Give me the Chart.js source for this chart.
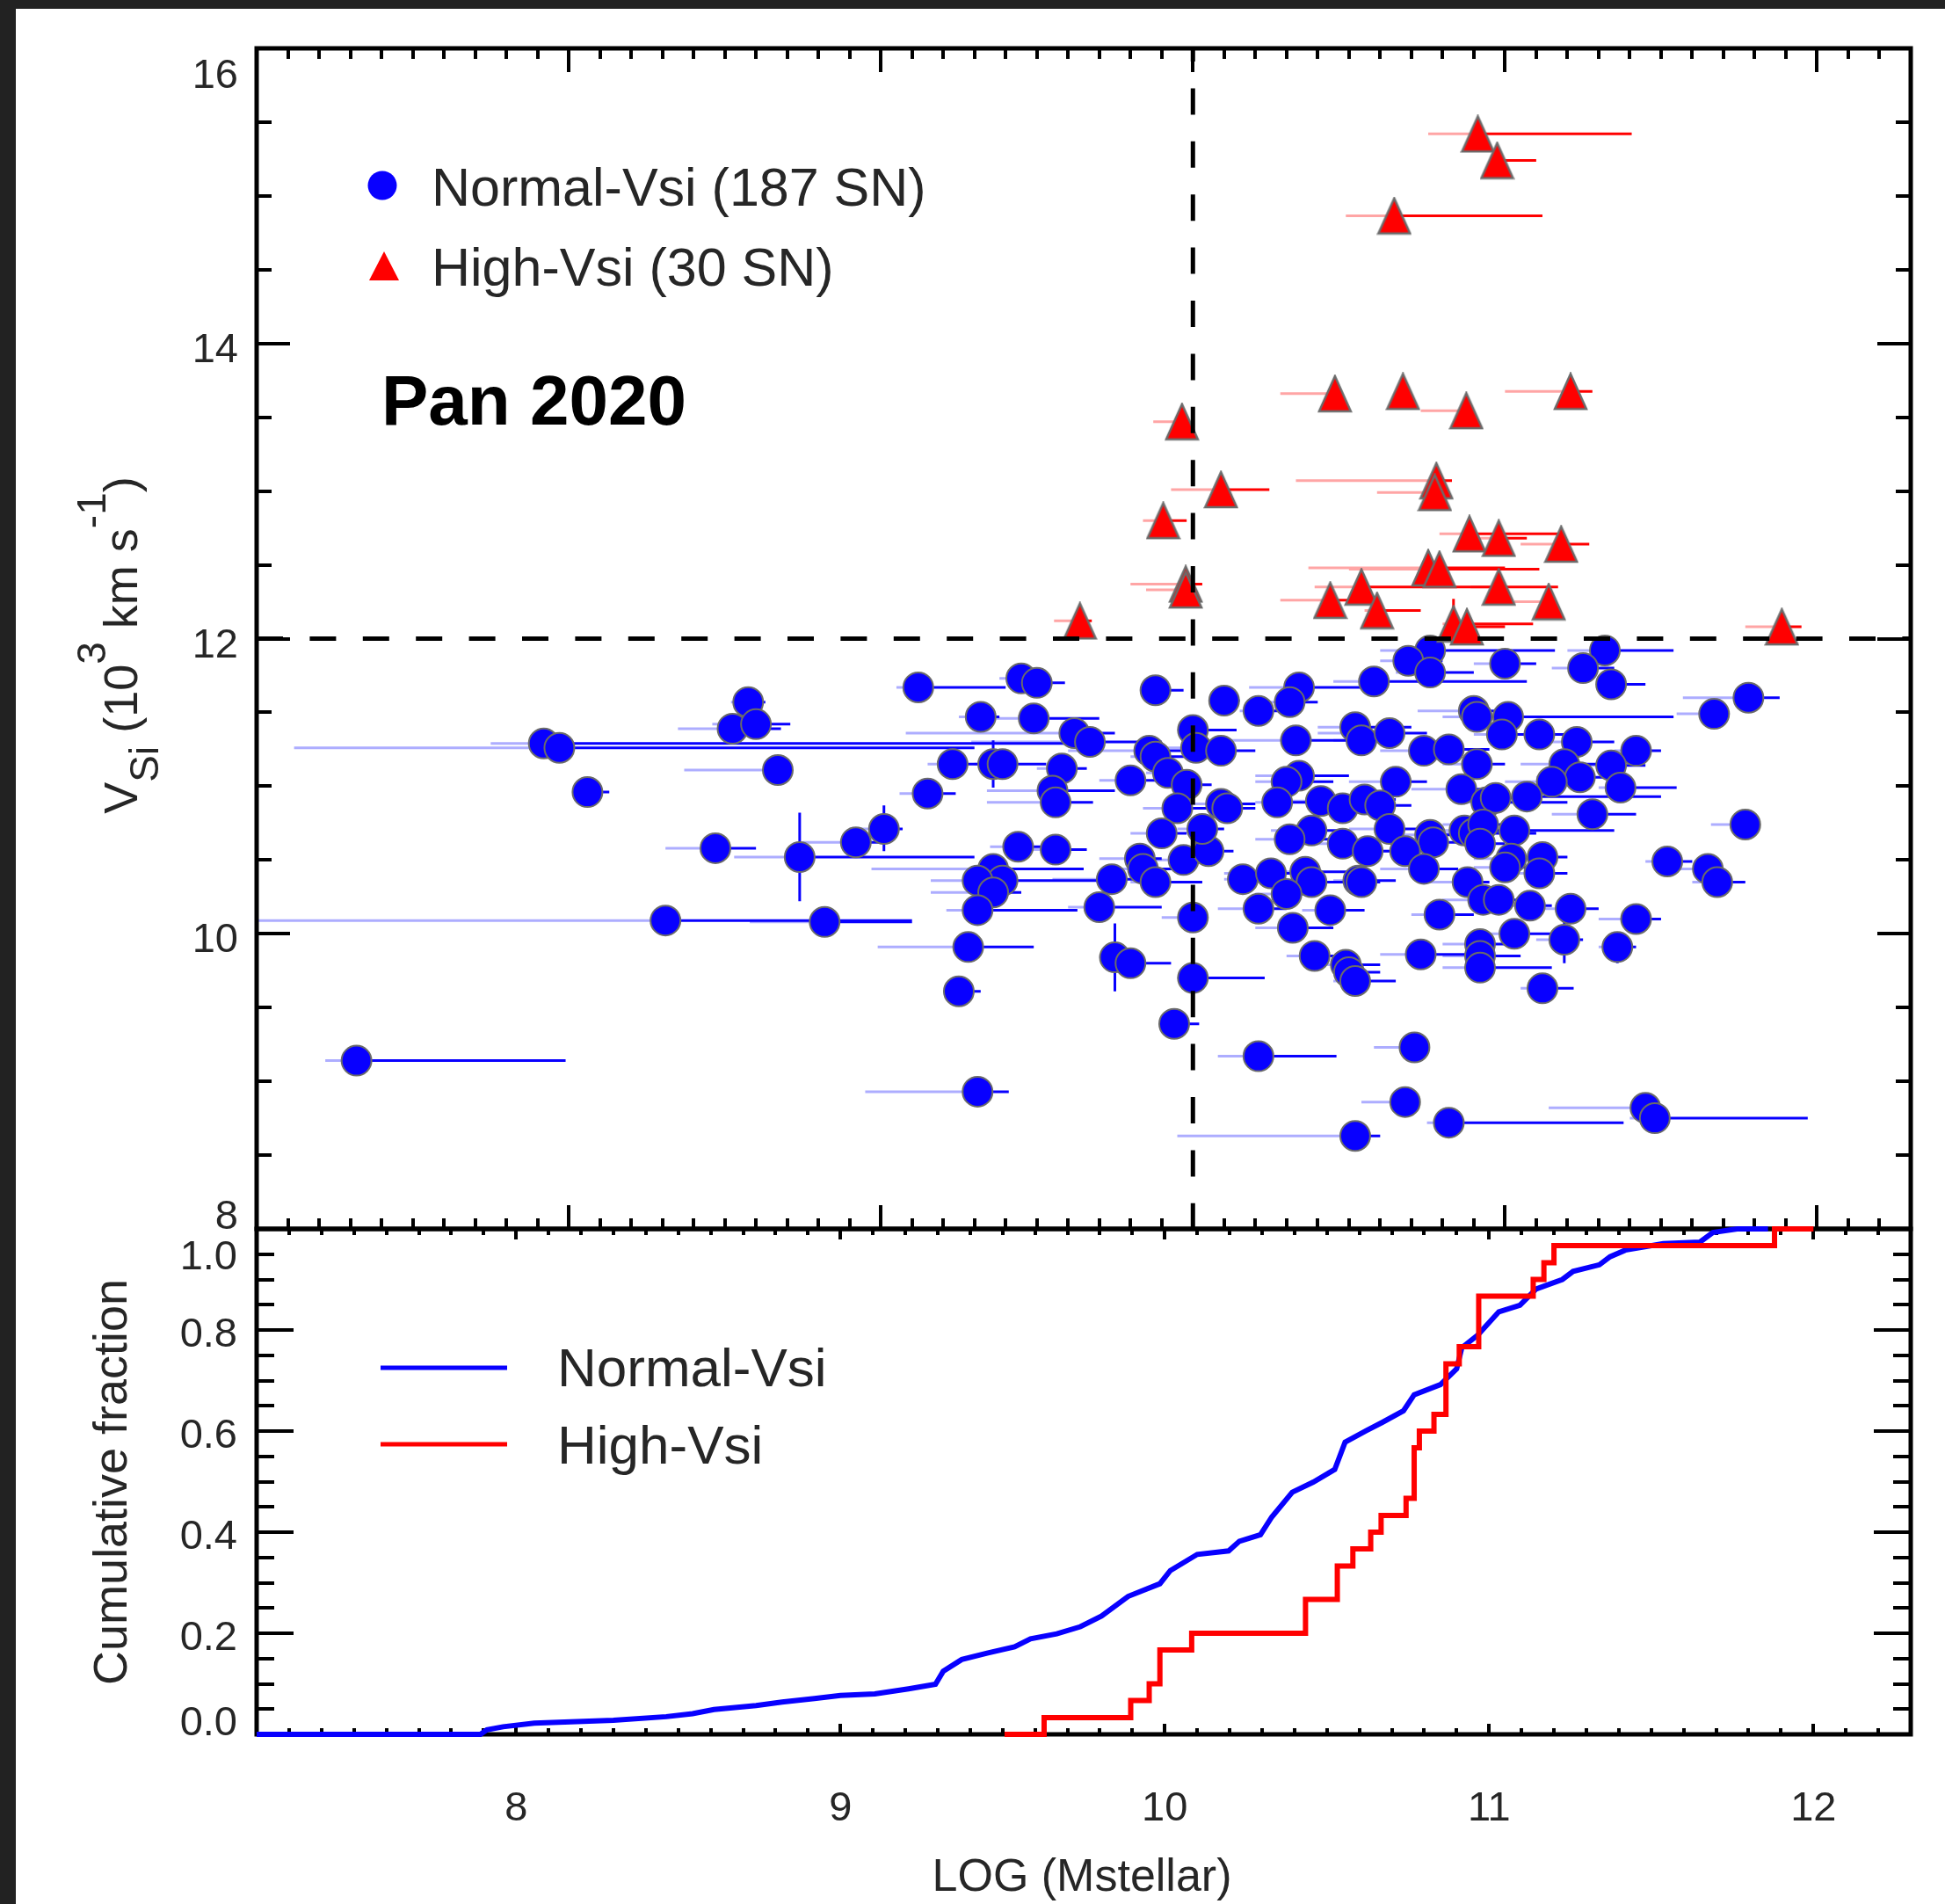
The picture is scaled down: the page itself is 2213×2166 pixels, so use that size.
<!DOCTYPE html>
<html>
<head>
<meta charset="utf-8">
<script src="https://cdn.jsdelivr.net/npm/chart.js@4.4.1/dist/chart.umd.min.js"></script>
<style>
  html, body { margin: 0; padding: 0; background: #fff; }
  body { width: 2213px; height: 2166px; position: relative; overflow: hidden; }
  #edgeTop { position: absolute; left: 0; top: 0; width: 2213px; height: 10px; background: #222; }
  #edgeLeft { position: absolute; left: 0; top: 0; width: 18px; height: 2166px; background: #222; }
  canvas { position: absolute; left: 0; top: 0; }
</style>
</head>
<body>
<div id="edgeTop"></div>
<div id="edgeLeft"></div>
<canvas id="scatter" width="2213" height="2166"></canvas>
<canvas id="cdf" width="2213" height="2166"></canvas>
<script>
// ---- upper panel: LOG(Mstellar) vs V_Si, normal-velocity SNe ----
const normalX = [
  7.32, 7.92, 7.97, 8.06, 8.575, 8.525, 8.60, 8.67, 8.47, 8.74,
  8.92, 8.31, 8.82, 9.12, 9.45, 9.50, 9.32, 9.49, 9.62, 9.67,
  9.23, 9.36, 9.39, 9.58, 9.55, 9.56, 9.15, 9.01, 9.44, 9.56,
  9.36, 9.39, 9.31, 9.36, 9.31, 9.28, 9.25, 9.31, 9.70, 9.74,
  9.83, 9.84, 9.88, 9.75, 9.80, 9.80, 9.86, 9.88, 9.92, 9.98,
  9.95, 9.90, 9.97, 10.05, 10.03, 10.09, 10.11, 10.00, 10.01, 10.09,
  9.88, 10.10, 10.21, 10.34, 10.31, 10.33, 10.52, 10.54, 10.34, 10.30,
  10.27, 10.41, 10.48, 10.38, 10.31, 10.48, 10.16, 10.25, 10.36, 10.38,
  10.30, 10.21, 10.32, 10.44, 10.53, 10.39, 10.49, 10.50, 10.52, 10.00,
  10.00, 9.94, 10.21, 10.52, 10.76, 10.69, 10.76, 10.58, 11.00, 11.32,
  11.25, 11.34, 11.78, 11.67, 10.90, 10.91, 11.01, 10.99, 11.11, 11.23,
  11.42, 11.34, 11.37, 11.19, 11.24, 11.15, 10.63, 10.74, 10.82, 10.91,
  10.65, 10.86, 10.55, 10.60, 10.94, 10.97, 11.07, 11.28, 10.63, 10.76,
  10.77, 10.87, 10.90, 10.93, 10.92, 11.03, 11.02, 11.00, 11.12, 11.11,
  10.68, 10.56, 10.54, 10.74, 10.88, 10.93, 10.98, 10.79, 11.08, 11.21,
  11.42, 11.03, 11.19, 11.36, 10.73, 10.92, 10.92, 10.92, 11.12, 10.71,
  10.68, 10.82, 11.45, 11.48, 11.52, 11.65, 11.68, 11.77
];
const normalY = [
  9.14, 11.29, 11.26, 10.96, 11.57, 11.39, 11.42, 11.11, 10.58, 10.52,
  10.62, 10.09, 10.08, 11.67, 11.73, 11.70, 11.47, 11.46, 11.36, 11.30,
  11.15, 11.15, 11.15, 11.12, 10.97, 10.89, 10.95, 10.71, 10.59, 10.57,
  10.44, 10.36, 10.36, 10.28, 10.16, 9.91, 9.61, 8.93, 10.18, 10.37,
  10.51, 10.44, 10.35, 9.84, 9.80, 11.04, 11.24, 11.20, 11.09, 11.01,
  10.85, 10.68, 10.50, 10.56, 10.71, 10.88, 10.85, 11.38, 11.26, 11.24,
  11.65, 11.58, 11.51, 11.67, 11.57, 11.31, 11.40, 11.31, 11.07, 11.03,
  10.89, 10.90, 10.85, 10.70, 10.64, 10.61, 10.37, 10.41, 10.42, 10.35,
  10.27, 10.17, 10.04, 10.16, 10.36, 9.85, 9.79, 9.74, 9.68, 10.11,
  9.70, 9.39, 9.17, 8.63, 11.92, 11.85, 11.77, 11.71, 11.83, 11.92,
  11.80, 11.69, 11.60, 11.49, 11.51, 11.47, 11.47, 11.35, 11.35, 11.30,
  11.24, 11.14, 10.99, 11.15, 11.06, 11.03, 11.36, 11.24, 11.25, 11.15,
  11.03, 10.98, 10.91, 10.87, 10.89, 10.92, 10.93, 10.81, 10.71, 10.67,
  10.62, 10.70, 10.68, 10.74, 10.61, 10.70, 10.51, 10.45, 10.52, 10.41,
  10.56, 10.56, 10.35, 10.44, 10.35, 10.23, 10.23, 10.13, 10.19, 10.17,
  10.10, 10.00, 9.96, 9.91, 9.86, 9.93, 9.85, 9.77, 9.63, 9.23,
  8.86, 8.72, 8.82, 8.75, 10.49, 10.44, 10.35, 10.74
];
const normalXLo = [
  7.22, 7.75, 7.12, 8.02, 8.52, 8.35, 8.46, 8.37, 8.31, 8.53,
  8.75, 7.00, 8.58, 9.05, 9.38, 9.45, 9.25, 9.37, 9.08, 9.29,
  9.15, 9.30, 9.33, 9.50, 9.34, 9.34, 9.06, 8.90, 9.35, 9.48,
  8.97, 9.20, 9.16, 9.16, 9.21, 8.99, 9.20, 8.95, 9.60, 9.55,
  9.70, 9.75, 9.80, 9.70, 9.74, 9.70, 9.60, 9.80, 9.85, 9.90,
  9.84, 9.80, 9.88, 9.98, 9.95, 10.00, 10.03, 9.95, 9.90, 10.00,
  9.83, 10.05, 10.15, 10.18, 10.18, 10.10, 10.40, 10.45, 10.20, 10.20,
  10.20, 10.30, 10.40, 10.25, 10.20, 10.35, 10.10, 10.10, 10.25, 10.30,
  10.20, 10.08, 10.20, 10.35, 10.45, 10.30, 10.40, 10.45, 10.45, 9.90,
  9.95, 9.90, 10.08, 9.95, 10.60, 10.60, 10.65, 10.45, 10.90, 11.20,
  11.15, 11.30, 11.57, 11.55, 10.72, 10.80, 10.95, 10.90, 11.00, 11.10,
  11.35, 11.20, 11.30, 11.05, 11.10, 11.00, 10.40, 10.60, 10.70, 10.80,
  10.50, 10.70, 10.45, 10.50, 10.85, 10.90, 10.95, 11.15, 10.50, 10.65,
  10.65, 10.75, 10.80, 10.80, 10.85, 10.95, 10.90, 10.90, 11.05, 11.00,
  10.55, 10.45, 10.40, 10.60, 10.75, 10.80, 10.90, 10.70, 10.90, 11.10,
  11.30, 10.90, 11.10, 11.30, 10.60, 10.80, 10.80, 10.80, 11.05, 10.58,
  10.54, 10.75, 11.14, 11.40, 11.45, 11.55, 11.60, 11.66
];
const normalXHi = [
  7.99, 9.60, 9.30, 8.13, 8.63, 8.68, 8.71, 8.70, 8.60, 9.30,
  9.00, 9.10, 9.10, 9.40, 9.50, 9.59, 9.38, 9.70, 9.75, 9.90,
  9.31, 9.45, 9.53, 9.66, 9.75, 9.68, 9.24, 9.07, 9.55, 9.66,
  9.65, 9.70, 9.50, 9.45, 9.63, 9.49, 9.32, 9.41, 9.90, 9.85,
  9.90, 9.95, 10.03, 9.80, 9.93, 9.90, 10.10, 9.98, 10.00, 10.06,
  10.05, 9.98, 10.05, 10.13, 10.10, 10.20, 10.20, 10.14, 10.10, 10.20,
  9.97, 10.15, 10.28, 10.60, 10.40, 10.50, 10.70, 10.65, 10.50, 10.45,
  10.45, 10.60, 10.60, 10.50, 10.45, 10.60, 10.30, 10.35, 10.50, 10.55,
  10.40, 10.30, 10.45, 10.55, 10.65, 10.50, 10.60, 10.60, 10.65, 10.05,
  10.23, 10.02, 10.46, 10.60, 11.16, 10.80, 10.90, 11.07, 11.10, 11.54,
  11.35, 11.45, 11.88, 11.72, 11.00, 11.54, 11.10, 11.10, 11.20, 11.35,
  11.50, 11.45, 11.55, 11.30, 11.35, 11.25, 10.75, 10.85, 10.95, 11.00,
  10.75, 11.00, 10.65, 10.70, 11.20, 11.05, 11.50, 11.42, 10.75, 10.90,
  10.85, 11.00, 11.10, 11.00, 11.00, 11.35, 11.10, 11.10, 11.20, 11.20,
  10.80, 10.65, 10.60, 10.85, 10.95, 11.00, 11.05, 10.90, 11.15, 11.30,
  11.50, 11.20, 11.25, 11.42, 10.90, 11.00, 11.05, 11.15, 11.22, 10.73,
  10.70, 11.38, 11.50, 11.97, 11.60, 11.70, 11.77, 11.80
];
const normalVBarX = [8.74, 9.36, 9.01, 9.75, 10.21, 11.19, 11.36];
const normalVBarLo = [10.22, 10.99, 10.56, 9.61, 9.09, 9.80, 9.80];
const normalVBarHi = [10.82, 11.31, 10.87, 10.07, 9.25, 10.10, 10.00];

// ---- upper panel: high-velocity SNe ----
const highX = [10.913, 10.975, 10.645, 10.455, 10.673, 10.876, 11.21, 9.965, 10.09, 10.78,
  10.775, 9.905, 10.886, 10.98, 11.18, 10.754, 10.79, 9.977, 9.977, 10.54,
  10.44, 10.59, 10.98, 11.14, 10.835, 10.878, 9.638, 11.887];
const highY = [15.42, 15.24, 14.865, 13.66, 13.675, 13.545, 13.675, 13.47, 13.01, 13.07,
  12.99, 12.80, 12.71, 12.68, 12.64, 12.48, 12.47, 12.37, 12.33, 12.35,
  12.26, 12.19, 12.35, 12.25, 12.10, 12.08, 12.12, 12.08];
const highXLo = [10.754, 10.975, 10.49, 10.28, 10.673, 10.73, 11.00, 9.873, 9.93, 10.33,
  10.59, 9.84, 10.79, 10.90, 11.05, 10.37, 10.50, 9.80, 9.85, 10.39,
  10.28, 10.55, 10.89, 11.03, 10.80, 10.85, 9.555, 11.77];
const highXHi = [11.406, 11.10, 11.12, 10.455, 10.673, 10.876, 11.28, 9.965, 10.245, 10.83,
  10.80, 9.98, 11.18, 11.07, 11.27, 11.00, 11.11, 10.03, 10.00, 11.17,
  10.50, 10.73, 11.14, 11.14, 11.09, 11.00, 9.676, 11.95];
const highVBarX = [10.98, 10.835];
const highVBarLo = [12.28, 12.10];
const highVBarHi = [12.42, 12.27];

const velocityCut = 12;   // horizontal dashed line
const massCut = 10;       // vertical dashed line

// ---- lower panel: cumulative fractions ----
const normalCdfX = [7.2, 7.89, 7.91, 7.96, 8.056, 8.30, 8.463, 8.544, 8.61, 8.74,
  8.82, 8.92, 9.00, 9.106, 9.21, 9.293, 9.317, 9.374, 9.455, 9.537,
  9.586, 9.667, 9.74, 9.805, 9.887, 9.985, 10.017, 10.10, 10.197, 10.23,
  10.295, 10.33, 10.393, 10.458, 10.524, 10.556, 10.622, 10.67, 10.736, 10.769,
  10.85, 10.90, 10.916, 10.965, 11.03, 11.095, 11.145, 11.226, 11.259, 11.34,
  11.373, 11.42, 11.537, 11.65, 11.69, 11.765, 11.86];
const normalCdfY = [0, 0, 0.009, 0.015, 0.022, 0.028, 0.035, 0.041, 0.049, 0.057,
  0.064, 0.071, 0.077, 0.080, 0.090, 0.099, 0.125, 0.148, 0.161, 0.173,
  0.189, 0.199, 0.213, 0.234, 0.273, 0.298, 0.324, 0.356, 0.363, 0.382,
  0.395, 0.430, 0.479, 0.499, 0.524, 0.578, 0.601, 0.617, 0.640, 0.672,
  0.692, 0.723, 0.765, 0.790, 0.836, 0.849, 0.881, 0.900, 0.916, 0.929,
  0.945, 0.958, 0.971, 0.974, 0.993, 1.0, 1.0];
const highCdfX = [9.506, 9.628, 9.895, 9.952, 9.985, 10.083, 10.434, 10.532, 10.58, 10.635,
  10.667, 10.744, 10.769, 10.785, 10.83, 10.867, 10.908, 10.968, 11.136, 11.169,
  11.2, 11.88, 12.0];
const highCdfY = [0, 0.033, 0.067, 0.1, 0.167, 0.2, 0.267, 0.333, 0.367, 0.4,
  0.433, 0.467, 0.567, 0.6, 0.633, 0.733, 0.767, 0.867, 0.9, 0.933,
  0.967, 1.0, 1.0];

// ---- tick labels ----
const scatterYTicks = [8, 10, 12, 14, 16];
const scatterYLabels = ['8', '10', '12', '14', '16'];
const cdfYTicks = [0, 0.2, 0.4, 0.6, 0.8, 1.0];
const cdfYLabels = ['0.0', '0.2', '0.4', '0.6', '0.8', '1.0'];
const cdfXTicks = [8, 9, 10, 11, 12];
const cdfXLabels = ['8', '9', '10', '11', '12'];

const FONT = '"Liberation Sans", Arial, Helvetica, sans-serif';
const INK = '#262626';
const BLUE = '#0800ff';
const RED = '#ff0000';
const EDGE = '#6b6b6b';

function pts(xs, ys) {
  return xs.map((x, i) => ({ x, y: ys[i] }));
}

// pairs of points separated by a null so each bar is its own segment
function hBars(ys, from, to) {
  const out = [];
  ys.forEach((y, i) => {
    out.push({ x: from[i], y }, { x: to[i], y }, { x: to[i], y: null });
  });
  return out;
}
function vBars(xs, lo, hi) {
  const out = [];
  xs.forEach((x, i) => {
    out.push({ x, y: lo[i] }, { x, y: hi[i] }, { x, y: null });
  });
  return out;
}

function triangleImage(w, h, fill, edge, lw) {
  const c = document.createElement('canvas');
  c.width = w + 4;
  c.height = h + 4;
  const g = c.getContext('2d');
  g.beginPath();
  g.moveTo(c.width / 2, 2);
  g.lineTo(w + 2, h + 2);
  g.lineTo(2, h + 2);
  g.closePath();
  g.fillStyle = fill;
  g.fill();
  if (lw) {
    g.lineWidth = lw;
    g.strokeStyle = edge;
    g.stroke();
  }
  return c;
}

function barSet(data, color, width, order) {
  return {
    data, showLine: true, spanGaps: false, borderColor: color,
    borderWidth: width, pointRadius: 0, order,
  };
}

// frame plus inward ticks on all four sides, IDL style
function drawFrame(chart, t) {
  const { ctx, chartArea: a, scales: { x, y } } = chart;
  ctx.save();
  ctx.strokeStyle = '#000';
  ctx.lineWidth = 4;
  ctx.beginPath();
  const nx = Math.round((t.xTo - t.xFrom) / t.xStep);
  for (let i = 0; i <= nx; i++) {
    const v = t.xFrom + i * t.xStep;
    const px = Math.round(x.getPixelForValue(v));
    const len = t.xMajor(v) ? t.xMajorLen : t.xMinorLen;
    ctx.moveTo(px, a.bottom);
    ctx.lineTo(px, a.bottom - len);
    ctx.moveTo(px, a.top);
    ctx.lineTo(px, a.top + len);
  }
  const ny = Math.round((t.yTo - t.yFrom) / t.yStep);
  for (let i = 0; i <= ny; i++) {
    const v = t.yFrom + i * t.yStep;
    const py = Math.round(y.getPixelForValue(v));
    const len = t.yMajor(v) ? t.yMajorLen : t.yMinorLen;
    ctx.moveTo(a.left, py);
    ctx.lineTo(a.left + len, py);
    ctx.moveTo(a.right, py);
    ctx.lineTo(a.right - len, py);
  }
  ctx.stroke();
  ctx.lineWidth = 5;
  ctx.strokeRect(a.left, a.top, a.right - a.left, a.bottom - a.top);
  ctx.restore();
}

function yLabels(chart, ticks, labels, right, shifts) {
  const { ctx, scales: { y } } = chart;
  ctx.save();
  ctx.font = `47px ${FONT}`;
  ctx.fillStyle = INK;
  ctx.textAlign = 'right';
  ctx.textBaseline = 'alphabetic';
  ticks.forEach((v, i) => {
    let s = shifts.mid;
    if (i === 0) s = shifts.low;
    if (i === ticks.length - 1) s = shifts.high;
    ctx.fillText(labels[i], right, y.getPixelForValue(v) + s + 17);
  });
  ctx.restore();
}

function rotatedText(ctx, parts, cx, cy) {
  ctx.save();
  ctx.translate(cx, cy);
  ctx.rotate(-Math.PI / 2);
  ctx.fillStyle = INK;
  ctx.textAlign = 'left';
  ctx.textBaseline = 'alphabetic';
  let total = 0;
  parts.forEach(([t, s]) => { ctx.font = `${s}px ${FONT}`; total += ctx.measureText(t).width; });
  let u = -total / 2;
  parts.forEach(([t, s, dv]) => {
    ctx.font = `${s}px ${FONT}`;
    ctx.fillText(t, u, dv);
    u += ctx.measureText(t).width;
  });
  ctx.restore();
}

const scatterDecor = {
  id: 'scatterDecor',
  afterDatasetsDraw(chart) {
    drawFrame(chart, {
      xFrom: 7, xTo: 12.3, xStep: 0.1, xMajor: (v) => Math.abs(v - Math.round(v)) < 1e-6,
      xMajorLen: 27, xMinorLen: 12,
      yFrom: 8, yTo: 16, yStep: 0.5, yMajor: (v) => Math.abs(v / 2 - Math.round(v / 2)) < 1e-6,
      yMajorLen: 38, yMinorLen: 17,
    });
  },
  afterDraw(chart) {
    const { ctx } = chart;
    yLabels(chart, scatterYTicks, scatterYLabels, 271, { low: -17, mid: 4, high: 28 });

    // legend
    ctx.save();
    ctx.fillStyle = BLUE;
    ctx.beginPath();
    ctx.arc(435, 211, 16.5, 0, Math.PI * 2);
    ctx.fill();
    ctx.drawImage(triangleImage(34, 33, RED, EDGE, 0), 418, 284);
    ctx.fillStyle = INK;
    ctx.font = `61px ${FONT}`;
    ctx.textAlign = 'left';
    ctx.textBaseline = 'alphabetic';
    ctx.fillText('Normal-Vsi (187 SN)', 491, 234);
    ctx.fillText('High-Vsi (30 SN)', 491, 325);
    ctx.fillStyle = '#000';
    ctx.font = `bold 80px ${FONT}`;
    ctx.fillText('Pan 2020', 434, 483);
    ctx.restore();

    rotatedText(ctx, [
      ['V', 54, 0], ['Si', 46, 24], [' (10', 54, 0], ['3', 46, -36],
      [' km s', 54, 0], ['-1', 46, -36], [')', 54, 0],
    ], 156, 734);
  },
};

const cdfDecor = {
  id: 'cdfDecor',
  beforeDatasetsDraw(chart) {
    drawFrame(chart, {
      xFrom: 7.2, xTo: 12.3, xStep: 0.1, xMajor: (v) => Math.abs(v - Math.round(v)) < 1e-6,
      xMajorLen: 12, xMinorLen: 7,
      yFrom: 0, yTo: 1, yStep: 0.05, yMajor: (v) => Math.abs(v * 5 - Math.round(v * 5)) < 1e-6,
      yMajorLen: 42, yMinorLen: 20,
    });
  },
  afterDraw(chart) {
    const { ctx, scales: { x } } = chart;
    yLabels(chart, cdfYTicks, cdfYLabels, 270, { low: -16, mid: 2, high: 29 });

    ctx.save();
    ctx.fillStyle = INK;
    ctx.font = `47px ${FONT}`;
    ctx.textAlign = 'center';
    ctx.textBaseline = 'alphabetic';
    cdfXTicks.forEach((v, i) => ctx.fillText(cdfXLabels[i], x.getPixelForValue(v), 2071));
    ctx.font = `52px ${FONT}`;
    ctx.fillText('LOG (Mstellar)', 1231, 2151);

    // legend
    ctx.lineWidth = 5;
    ctx.strokeStyle = BLUE;
    ctx.beginPath(); ctx.moveTo(433, 1556); ctx.lineTo(577, 1556); ctx.stroke();
    ctx.strokeStyle = RED;
    ctx.beginPath(); ctx.moveTo(433, 1643); ctx.lineTo(577, 1643); ctx.stroke();
    ctx.font = `62px ${FONT}`;
    ctx.textAlign = 'left';
    ctx.fillText('Normal-Vsi', 634, 1577);
    ctx.fillText('High-Vsi', 634, 1665);
    ctx.restore();

    rotatedText(ctx, [['Cumulative fraction', 54, 0]], 144, 1686);
  },
};

const common = {
  responsive: false,
  animation: false,
  devicePixelRatio: 1,
  events: [],
  plugins: { legend: { display: false }, tooltip: { enabled: false } },
};

new Chart(document.getElementById('scatter'), {
  type: 'scatter',
  data: {
    datasets: [
      { ...barSet([{ x: 7, y: velocityCut }, { x: 12.3, y: velocityCut }], '#000', 5, 0),
        borderDash: [30, 30.4], clip: false },
      { ...barSet([{ x: massCut, y: 16 }, { x: massCut, y: 8 }], '#000', 5, 0),
        borderDash: [30, 30.4], borderDashOffset: 15 },
      barSet(hBars(normalY, normalXLo, normalX), 'rgba(40,40,255,0.38)', 3, 9),
      barSet(hBars(normalY, normalX, normalXHi), BLUE, 3, 8),
      barSet(vBars(normalVBarX, normalVBarLo, normalVBarHi), BLUE, 3, 8),
      {
        data: pts(normalX, normalY), pointStyle: 'circle', pointRadius: 17,
        backgroundColor: BLUE, borderColor: EDGE, borderWidth: 2, order: 5,
      },
      barSet(hBars(highY, highXLo, highX), 'rgba(255,40,40,0.42)', 3, 4),
      barSet(hBars(highY, highX, highXHi), RED, 3, 3),
      barSet(vBars(highVBarX, highVBarLo, highVBarHi), RED, 3, 3),
      {
        data: pts(highX, highY), pointStyle: triangleImage(36, 40, RED, EDGE, 2.5),
        pointRadius: 20, order: 1,
      },
    ],
  },
  options: {
    ...common,
    layout: { padding: { left: 292, top: 55, right: 39, bottom: 768 } },
    scales: {
      x: { type: 'linear', min: 7, max: 12.3, display: false },
      y: { type: 'linear', min: 8, max: 16, display: false },
    },
  },
  plugins: [scatterDecor],
});

new Chart(document.getElementById('cdf'), {
  type: 'line',
  data: {
    datasets: [
      {
        data: pts(highCdfX, highCdfY), stepped: 'before', borderColor: RED,
        borderWidth: 6, pointRadius: 0, clip: false, order: 1,
      },
      {
        data: pts(normalCdfX, normalCdfY), borderColor: BLUE,
        borderWidth: 6, pointRadius: 0, clip: false, order: 2,
      },
    ],
  },
  options: {
    ...common,
    layout: { padding: { left: 292, top: 1398, right: 39, bottom: 193 } },
    scales: {
      x: { type: 'linear', min: 7.2, max: 12.3, display: false },
      y: { type: 'linear', min: 0, max: 1, display: false },
    },
  },
  plugins: [cdfDecor],
});
</script>
</body>
</html>
